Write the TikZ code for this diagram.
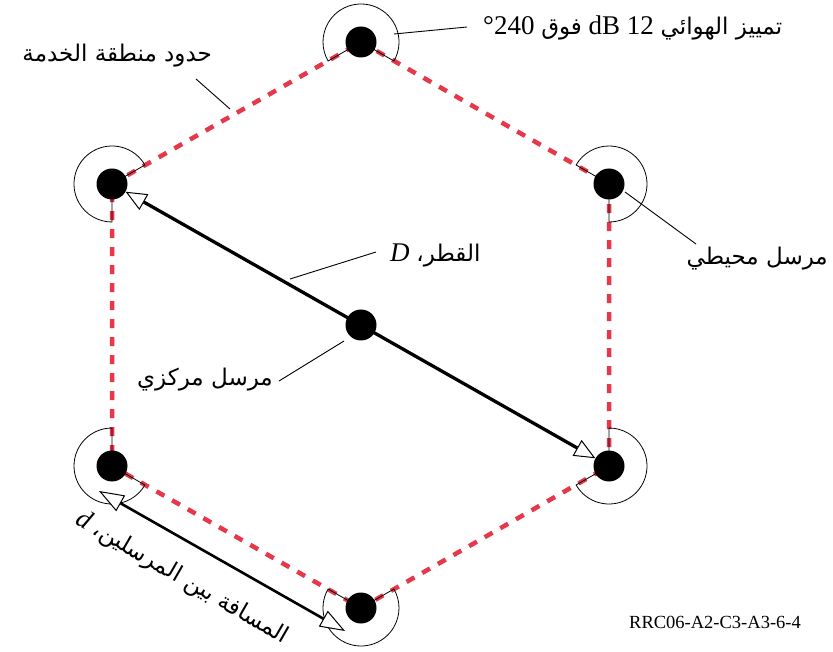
\documentclass[tikz,border=0pt]{standalone}
\usepackage{fontspec}
\setmainfont{Liberation Serif}
\newfontfamily\arabicfont[Script=Arabic]{DejaVu Sans}
\TeXXeTstate=1
\usetikzlibrary{arrows.meta}
\definecolor{hexred}{RGB}{230,55,75}
\newcommand\artext[1]{{\arabicfont\beginR #1\endR}}
\tikzset{
  txdot/.style={circle, fill=black, inner sep=0pt, minimum size=31pt},
  hexedge/.style={draw=hexred, line width=4.5pt, dash pattern=on 9pt off 9pt},
  sector/.style={draw=black, line width=0.8pt},
  leader/.style={draw=black, line width=0.9pt},
  diam/.style={draw=black, line width=3.3pt,
    {Triangle[fill=white,length=21pt,width=18pt,line width=1pt]}-{Triangle[fill=white,length=21pt,width=18pt,line width=1pt]}},
  dist/.style={draw=black, line width=2.6pt,
    {Triangle[fill=white,length=25pt,width=18pt,line width=1pt]}-{Triangle[fill=white,length=25pt,width=18pt,line width=1pt]}},
  lab/.style={inner sep=0pt, font=\fontsize{27}{30}\selectfont},
  arlab/.style={inner sep=0pt, font=\fontsize{23}{28}\selectfont},
  code/.style={inner sep=0pt, font=\fontsize{18.5}{22}\selectfont}
}
\begin{document}
\begin{tikzpicture}[x=1pt,y=1pt]
\useasboundingbox[fill=white] (0,0) rectangle (833,-652);
% vertices
\coordinate (vt) at (361,-42);
\coordinate (vur) at (609,-184);
\coordinate (vlr) at (609,-466);
\coordinate (vb) at (361,-608);
\coordinate (vll) at (112,-466);
\coordinate (vul) at (112,-184);
\coordinate (vc) at (361,-325);
% service area boundary
\draw[hexedge] (vt) -- (vur) -- (vlr) -- (vb) -- (vll) -- (vul) -- cycle;
% 240 degree antenna sectors
\foreach \v/\t in {vt/90, vul/150, vll/210, vb/270, vlr/330, vur/30}{
  \draw[sector] (\v) -- ++(\t-120:38) arc[start angle=\t-120, end angle=\t+120, radius=38] -- cycle;
}
% transmitters
\node[txdot] (dt) at (vt) {};
\node[txdot] (dur) at (vur) {};
\node[txdot] (dlr) at (vlr) {};
\node[txdot] (db) at (vb) {};
\node[txdot] (dll) at (vll) {};
\node[txdot] (dul) at (vul) {};
% diameter D
\draw[diam] (dul) -- (dlr);
\node[txdot] (dc) at (vc) {};
% distance d
\coordinate (d1) at (99,-491);
\coordinate (d2) at (345,-631);
\draw[dist] (d1) -- (d2);
% labels
\node[lab, anchor=base west] (ltop) at (483,-35)
  {°240\ \artext{\fontsize{23}{28}\selectfont فوق}\ dB 12\ \artext{\fontsize{23}{28}\selectfont تمييز الهوائي}};
\node[arlab, anchor=base east] (lborder) at (212,-62) {\artext{حدود منطقة الخدمة}};
\node[arlab, anchor=base east] (lperi) at (828,-265) {\artext{مرسل محيطي}};
\node[lab, anchor=base west] (ldiam) at (390,-262) {\itshape D\upshape\ \artext{\fontsize{23}{28}\selectfont القطر،}};
\node[arlab, anchor=base east] (lcent) at (273,-385) {\artext{مرسل مركزي}};
\node[lab, rotate=-30, anchor=center] (ldist) at (182,-578)
  {\itshape d\upshape\ \artext{\fontsize{23}{28}\selectfont المسافة بين المرسلين،}};
\node[code, anchor=base west] (lcode) at (629,-628) {RRC06-A2-C3-A3-6-4};
% leader lines
\coordinate (ptop) at (394,-34);
\coordinate (ptopend) at (467,-27);
\draw[leader] (ptop) -- (ptopend);
\coordinate (pborder) at (230,-109);
\coordinate (pborderend) at (196,-79);
\draw[leader] (pborderend) -- (pborder);
\coordinate (pperi) at (625,-192);
\coordinate (pperiend) at (696,-244);
\draw[leader] (pperi) -- (pperiend);
\coordinate (pdiam) at (290,-279);
\coordinate (pdiamend) at (376,-252);
\draw[leader] (pdiam) -- (pdiamend);
\coordinate (pcent) at (344,-341);
\coordinate (pcentend) at (279,-381);
\draw[leader] (pcent) -- (pcentend);
\end{tikzpicture}
\end{document}
